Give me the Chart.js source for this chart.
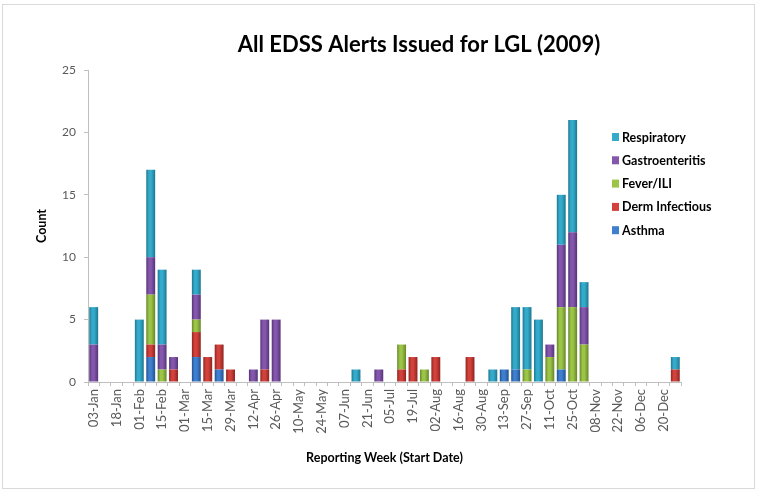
<!DOCTYPE html>
<html>
<head>
<meta charset="utf-8">
<script src="https://cdn.jsdelivr.net/npm/chart.js@4.4.1/dist/chart.umd.min.js"></script>
<style>
  body { margin: 0; background: #fff; }
  #frame { position: absolute; left: 2px; top: 4px; width: 751px; height: 483px; border: 1px solid #d9d9d9; }
  #wrap { position: absolute; left: 0; top: 0; width: 758px; height: 491px; }
</style>
</head>
<body>
<div id="frame"></div>
<div id="wrap"><canvas id="alerts"></canvas></div>
<script>
// Reporting weeks (start date), only every other one is labelled on the axis
const weeks = [
  '03-Jan', '11-Jan', '18-Jan', '25-Jan', '01-Feb', '08-Feb', '15-Feb', '22-Feb',
  '01-Mar', '08-Mar', '15-Mar', '22-Mar', '29-Mar', '05-Apr', '12-Apr', '19-Apr',
  '26-Apr', '03-May', '10-May', '17-May', '24-May', '31-May', '07-Jun', '14-Jun',
  '21-Jun', '28-Jun', '05-Jul', '12-Jul', '19-Jul', '26-Jul', '02-Aug', '09-Aug',
  '16-Aug', '23-Aug', '30-Aug', '06-Sep', '13-Sep', '20-Sep', '27-Sep', '04-Oct',
  '11-Oct', '18-Oct', '25-Oct', '01-Nov', '08-Nov', '15-Nov', '22-Nov', '29-Nov',
  '06-Dec', '13-Dec', '20-Dec', '27-Dec'
];

// Alert counts per week, one array per syndrome (stack order bottom to top)
const asthma = [
  0, 0, 0, 0, 0, 2, 0, 0, 0, 2, 0, 1, 0, 0, 0, 0,
  0, 0, 0, 0, 0, 0, 0, 0, 0, 0, 0, 0, 0, 0, 0, 0,
  0, 0, 0, 0, 1, 1, 0, 0, 0, 1, 0, 0, 0, 0, 0, 0,
  0, 0, 0, 0
];
const dermInfectious = [
  0, 0, 0, 0, 0, 1, 0, 1, 0, 2, 2, 2, 1, 0, 0, 1,
  0, 0, 0, 0, 0, 0, 0, 0, 0, 0, 0, 1, 2, 0, 2, 0,
  0, 2, 0, 0, 0, 0, 0, 0, 0, 0, 0, 0, 0, 0, 0, 0,
  0, 0, 0, 1
];
const feverIli = [
  0, 0, 0, 0, 0, 4, 1, 0, 0, 1, 0, 0, 0, 0, 0, 0,
  0, 0, 0, 0, 0, 0, 0, 0, 0, 0, 0, 2, 0, 1, 0, 0,
  0, 0, 0, 0, 0, 0, 1, 0, 2, 5, 6, 3, 0, 0, 0, 0,
  0, 0, 0, 0
];
const gastro = [
  3, 0, 0, 0, 0, 3, 2, 1, 0, 2, 0, 0, 0, 0, 1, 4,
  5, 0, 0, 0, 0, 0, 0, 0, 0, 1, 0, 0, 0, 0, 0, 0,
  0, 0, 0, 0, 0, 0, 0, 0, 1, 5, 6, 3, 0, 0, 0, 0,
  0, 0, 0, 0
];
const respiratory = [
  3, 0, 0, 0, 5, 7, 6, 0, 0, 2, 0, 0, 0, 0, 0, 0,
  0, 0, 0, 0, 0, 0, 0, 1, 0, 0, 0, 0, 0, 0, 0, 0,
  0, 0, 0, 1, 0, 5, 5, 5, 0, 4, 9, 2, 0, 0, 0, 0,
  0, 0, 0, 1
];

const yTicks = [0, 5, 10, 15, 20, 25];
const chartTitle = 'All EDSS Alerts Issued for LGL (2009)';

const font = 'Lato, "Open Sans", sans-serif';
const barPct = 0.78;

// Shaded fill across each bar (dark edges, lighter middle) like the 3D look of the original
function shade(light, dark) {
  return (context) => {
    const chart = context.chart;
    const xs = chart.scales.x;
    if (!xs || context.dataIndex === undefined) return light;
    const x = xs.getPixelForValue(context.dataIndex);
    const hw = (xs.width / weeks.length) * barPct / 2;
    if (!isFinite(x) || !isFinite(hw) || hw <= 0) return light;
    const g = chart.ctx.createLinearGradient(x - hw, 0, x + hw, 0);
    g.addColorStop(0, dark);
    g.addColorStop(0.3, light);
    g.addColorStop(0.55, light);
    g.addColorStop(1, dark);
    return g;
  };
}

function serie(label, data, light, dark) {
  return {
    label: label,
    data: data,
    backgroundColor: shade(light, dark),
    legendColor: light,
    borderWidth: 0,
    barPercentage: barPct,
    categoryPercentage: 1
  };
}

// Title and legend are drawn over the plot, like the original spreadsheet chart
const overlay = {
  id: 'overlay',
  afterDraw(chart) {
    const ctx = chart.ctx;
    ctx.save();
    ctx.fillStyle = '#000';
    ctx.font = 'bold 22px ' + font;
    ctx.textAlign = 'center';
    ctx.textBaseline = 'middle';
    ctx.fillText(chartTitle, 419, 45);

    ctx.font = 'bold 12.5px ' + font;
    ctx.textAlign = 'left';
    const items = chart.data.datasets.slice().reverse();
    items.forEach((ds, i) => {
      const y = 137 + i * 23.3;
      ctx.fillStyle = ds.legendColor;
      ctx.fillRect(612, y - 4, 7, 8);
      ctx.fillStyle = '#000';
      ctx.fillText(ds.label, 622, y + 0.5);
    });
    ctx.restore();
  }
};

new Chart(document.getElementById('alerts'), {
  type: 'bar',
  data: {
    labels: weeks,
    datasets: [
      serie('Asthma', asthma, '#3f7fce', '#21528f'),
      serie('Derm Infectious', dermInfectious, '#d2413b', '#8e2420'),
      serie('Fever/ILI', feverIli, '#9cc446', '#66862a'),
      serie('Gastroenteritis', gastro, '#8457ad', '#553477'),
      serie('Respiratory', respiratory, '#35abcc', '#1c7790')
    ]
  },
  options: {
    responsive: true,
    maintainAspectRatio: false,
    animation: false,
    layout: { padding: { left: 30, top: 70, right: 77, bottom: 22 } },
    plugins: {
      legend: { display: false },
      title: { display: false },
      tooltip: { enabled: false }
    },
    scales: {
      x: {
        stacked: true,
        grid: { display: true, drawOnChartArea: false, offset: true, tickLength: 4, color: '#bfbfbf' },
        border: { color: '#bfbfbf' },
        ticks: {
          autoSkip: false,
          minRotation: 90,
          maxRotation: 90,
          padding: 3,
          color: '#595959',
          font: { family: font, size: 13 },
          callback: function (value, index) {
            return index % 2 === 0 ? this.getLabelForValue(value) : '';
          }
        },
        title: {
          display: true,
          text: 'Reporting Week (Start Date)',
          color: '#000',
          padding: { top: 17, bottom: 4 },
          font: { family: font, size: 12.5, weight: 'bold' }
        },
        afterFit: (scale) => { scale.height = 87; }
      },
      y: {
        stacked: true,
        min: yTicks[0],
        max: yTicks[yTicks.length - 1],
        afterBuildTicks: (scale) => { scale.ticks = yTicks.map(v => ({ value: v })); },
        grid: { display: true, drawOnChartArea: false, tickLength: 4, color: '#bfbfbf' },
        border: { color: '#bfbfbf' },
        ticks: {
          padding: 8,
          color: '#595959',
          font: { family: font, size: 12 }
        },
        title: {
          display: true,
          text: 'Count',
          color: '#000',
          font: { family: font, size: 12.5, weight: 'bold' }
        },
        afterFit: (scale) => { scale.width = 58; }
      }
    }
  },
  plugins: [overlay]
});
</script>
</body>
</html>
